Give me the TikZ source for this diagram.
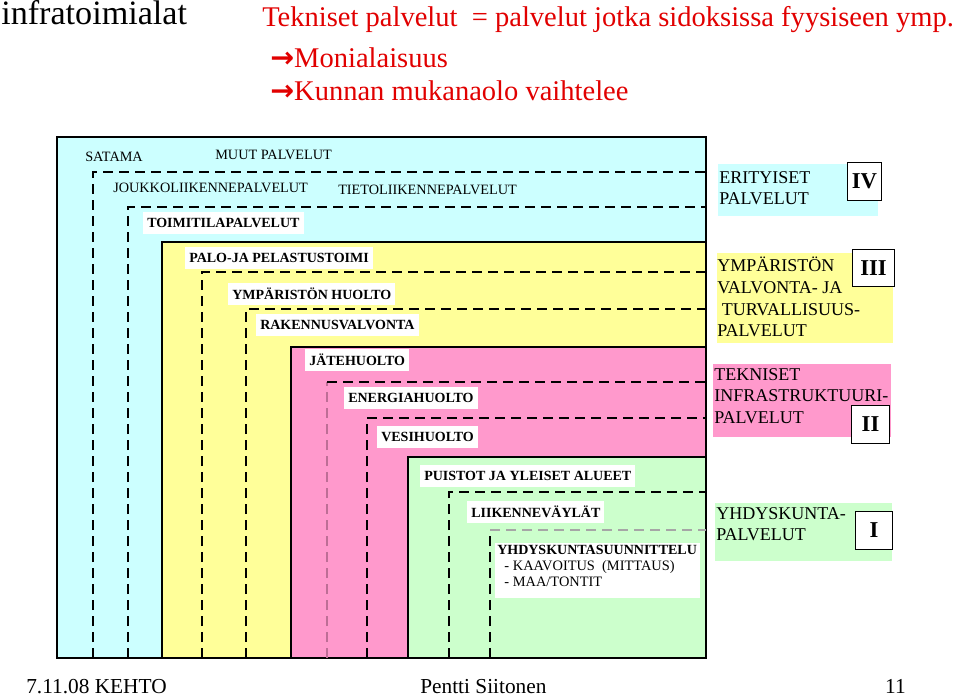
\documentclass[tikz,border=0pt]{standalone}
\usepackage{fontspec}
\setmainfont{Liberation Serif}
\newfontfamily\arrowfont{DejaVu Sans}
\usepackage{tikz}
\usetikzlibrary{positioning}
\definecolor{cyanbg}{RGB}{204,255,255}
\definecolor{yellowbg}{RGB}{255,255,153}
\definecolor{pinkbg}{RGB}{255,153,204}
\definecolor{greenbg}{RGB}{204,255,204}
\definecolor{mauve}{RGB}{190,110,150}
\definecolor{redtxt}{RGB}{225,0,0}
\tikzset{
  lbl/.style={anchor=west,fill=white,inner xsep=3pt,inner ysep=0pt,minimum height=17pt,font=\fontsize{10.5}{12}\selectfont\bfseries},
  caption/.style={anchor=west,inner sep=0pt,font=\fontsize{10.7}{12}\selectfont},
  cut/.style={dash pattern=on 7.5pt off 4.5pt,line width=1.4pt},
  frame/.style={draw=black,line width=2.2pt},
  side/.style={anchor=north west,align=left,inner sep=0pt,font=\fontsize{13.5}{16.2}\selectfont},
  level/.style={draw,fill=white,line width=0.8pt,inner sep=0pt,minimum width=26pt,minimum height=28pt,font=\fontsize{17}{17}\selectfont\bfseries},
  redline/.style={anchor=base west,inner sep=0pt,text=redtxt,font=\fontsize{21.4}{24}\selectfont},
  foot/.style={anchor=base west,inner sep=0pt,font=\fontsize{16}{18}\selectfont}
}
\begin{document}
\begin{tikzpicture}[x=0.75pt,y=-0.75pt]
\useasboundingbox (0,0) rectangle (960,698);
\node[anchor=base west,inner sep=0pt,font=\fontsize{25.6}{28}\selectfont] (title) at (1,25) {infratoimialat};
\node[redline] (def) at (262,27) {Tekniset palvelut\ \ = palvelut jotka sidoksissa fyysiseen ymp.};
\node[redline] (multi) at (270,68) {{\arrowfont\bfseries →}Monialaisuus};
\node[redline] (kunta) at (270,101) {{\arrowfont\bfseries →}Kunnan mukanaolo vaihtelee};

\filldraw[fill=cyanbg,line width=0.8pt] (57,137) rectangle (706,658);
\draw[cut] (93,658) |- (706,172) -- (706,242);
\draw[cut] (128,658) |- (706,207);
\filldraw[fill=yellowbg,frame] (162,242) rectangle (706,658);
\draw[cut] (202,658) |- (706,272);
\draw[cut] (246,658) |- (706,309);
\filldraw[fill=pinkbg,frame] (291,347) rectangle (706,658);
\draw[cut,draw=mauve] (327,658) -- (327,382);
\draw[cut] (327,382) -- (706,382);
\draw[cut] (367,658) |- (706,418);
\filldraw[fill=greenbg,frame] (408,457) rectangle (706,658);
\draw[cut] (449,658) |- (706,492);
\draw[cut] (490,658) -- (490,530);
\draw[cut,line width=0.8pt,draw=gray!70] (490,530) -- (706,530);

\node[caption] (satama) at (85,157) {SATAMA};
\node[caption] (muut) at (215,155) {MUUT PALVELUT};
\node[caption] (joukko) at (113,188) {JOUKKOLIIKENNEPALVELUT};
\node[caption] (tieto) at (338,190) {TIETOLIIKENNEPALVELUT};
\node[lbl] (toimi) at (143,223) {TOIMITILAPALVELUT};
\node[lbl] (palo) at (185,258) {PALO-JA PELASTUSTOIMI};
\node[lbl] (ymphuolto) at (228,294) {YMPÄRISTÖN HUOLTO};
\node[lbl] (rakval) at (256,325) {RAKENNUSVALVONTA};
\node[lbl] (jate) at (305,360) {JÄTEHUOLTO};
\node[lbl] (energia) at (344,398) {ENERGIAHUOLTO};
\node[lbl] (vesi) at (377,437) {VESIHUOLTO};
\node[lbl] (puistot) at (420,476) {PUISTOT JA YLEISET ALUEET};
\node[lbl] (liikenne) at (467,512) {LIIKENNEVÄYLÄT};
\fill[white] (495,543) rectangle (700,598);
\node[anchor=north west,align=left,inner sep=0pt,font=\fontsize{10.8}{12}\selectfont] (suunn) at (497,545)
  {{\fontsize{10.5}{12}\selectfont\bfseries YHDYSKUNTASUUNNITTELU}\\\ \ - KAAVOITUS\ \ (MITTAUS)\\\ \ - MAA/TONTIT};

\fill[cyanbg] (718,164) rectangle (878,216);
\node[side] (erit) at (719,171) {ERITYISET\\PALVELUT};
\node[level] (lvl4) at (864.5,181.5) {IV};
\fill[yellowbg] (717,253) rectangle (893,343);
\node[side] (valv) at (717,257) {YMPÄRISTÖN\\VALVONTA- JA\\\ TURVALLISUUS-\\PALVELUT};
\node[level,minimum width=32pt] (lvl3) at (873.5,268) {III};
\fill[pinkbg] (713,364) rectangle (891,437);
\node[side] (tekn) at (714,368) {TEKNISET\\INFRASTRUKTUURI-\\PALVELUT};
\node[level,minimum width=28pt] (lvl2) at (870.5,424.5) {II};
\fill[greenbg] (715,503) rectangle (892,561);
\node[side] (yhd) at (716,507) {YHDYSKUNTA-\\PALVELUT};
\node[level,minimum width=28pt] (lvl1) at (874,530.5) {I};

\node[foot] (date) at (26,693) {7.11.08 KEHTO};
\node[foot] (author) at (420,693) {Pentti Siitonen};
\node[foot,anchor=base east] (page) at (906,693) {11};
\end{tikzpicture}
\end{document}
